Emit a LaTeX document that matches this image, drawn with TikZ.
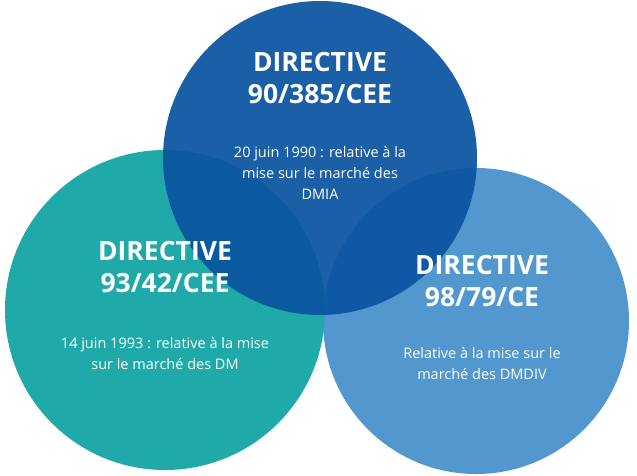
\documentclass[tikz,border=0pt]{standalone}
\usepackage{fontspec}
\setmainfont{Open Sans}
\definecolor{topblue}{HTML}{0A54A0}
\definecolor{leftteal}{HTML}{0FA3A3}
\definecolor{rightblue}{HTML}{4590CB}
\tikzset{
  disc/.style={circle, fill=#1, fill opacity=0.93, inner sep=0pt},
  titel/.style={text=white, font=\bfseries\fontsize{26.5}{32}\selectfont, align=center},
  texte/.style={text=white, font=\fontsize{14.5}{21}\selectfont, align=center}
}
\begin{document}
\begin{tikzpicture}[x=1pt, y=-1pt]
\useasboundingbox[fill=white] (0,0) rectangle (637,475);
% cercles
\node[disc=leftteal, minimum size=320pt] (CG) at (165,310) {};
\node[disc=rightblue, minimum size=306pt] (CD) at (476,321) {};
\node[disc=topblue, minimum size=314pt] (CH) at (320,158) {};
% textes
\node[titel] (TH) at (320,78) {DIRECTIVE\\90/385/CEE};
\node[texte] (BH) at (320,173) {20 juin 1990 : relative à la\\mise sur le marché des\\DMIA};
\node[titel] (TG) at (165,267) {DIRECTIVE\\93/42/CEE};
\node[texte] (BG) at (165,354) {14 juin 1993 : relative à la mise\\sur le marché des DM};
\node[titel] (TD) at (482,281) {DIRECTIVE\\98/79/CE};
\node[texte] (BD) at (482,364) {Relative à la mise sur le\\marché des DMDIV};
\end{tikzpicture}
\end{document}
